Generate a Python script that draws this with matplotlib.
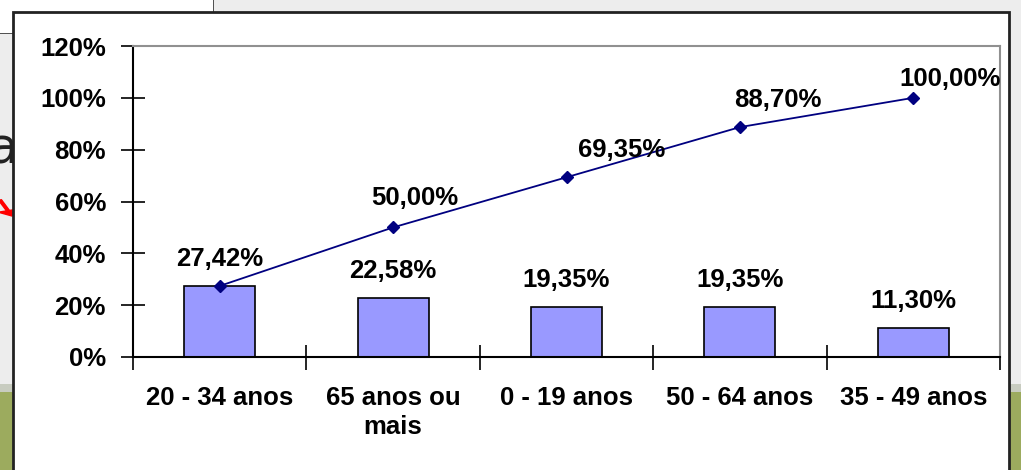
import matplotlib.pyplot as plt
import matplotlib.patches as patches
import matplotlib.lines as mlines
import numpy as np

# dados
categorias = ['20 - 34 anos', '65 anos ou\nmais', '0 - 19 anos', '50 - 64 anos', '35 - 49 anos']
percentual = [27.42, 22.58, 19.35, 19.35, 11.30]
acumulado = [27.42, 50.00, 69.35, 88.70, 100.00]
rot_barras = ['27,42%', '22,58%', '19,35%', '19,35%', '11,30%']
rot_linha = ['', '50,00%', '69,35%', '88,70%', '100,00%']

plt.rcParams['font.family'] = ['Liberation Sans', 'DejaVu Sans']
plt.rcParams['font.weight'] = 'bold'
fs = 18.5

W, H = 1021, 470
fig = plt.figure(figsize=(W / 100, H / 100), dpi=100, facecolor='#ededed')

# fundo do slide (recortado)
fig.patches.append(patches.Rectangle((0, 0), 1, 1 - 390 / H, transform=fig.transFigure,
                                     facecolor='#9cab5e', edgecolor='none', zorder=0))
fig.patches.append(patches.Rectangle((0, 1 - 392 / H), 1, 8 / H, transform=fig.transFigure,
                                     facecolor='#c8ccc0', edgecolor='none', zorder=0))
fig.patches.append(patches.Rectangle((0, 1 - 33 / H), 213 / W, 33 / H, transform=fig.transFigure,
                                     facecolor='white', edgecolor='none', zorder=0))
fig.lines.append(mlines.Line2D([213 / W, 213 / W], [1, 1 - 12 / H], transform=fig.transFigure,
                               color='#333333', linewidth=1.2, zorder=0))
fig.lines.append(mlines.Line2D([0, 13 / W], [1 - 33 / H, 1 - 33 / H], transform=fig.transFigure,
                               color='#333333', linewidth=1.2, zorder=0))
fig.text(-12 / W, 1 - 150 / H, 'a', fontsize=36, fontweight='normal', family='DejaVu Sans',
         color='#222222', ha='left', va='center', zorder=0)
fig.patches.append(patches.FancyArrow(0, 1 - 200 / H, 12 / W, -16 / H, transform=fig.transFigure,
                                      width=0.003, head_width=0.02, head_length=0.012,
                                      color='red', zorder=0, length_includes_head=True))

# caixa do gráfico
fig.patches.append(patches.Rectangle((13 / W, -0.05), (1009 - 13) / W, 1.05 - 12 / H,
                                     transform=fig.transFigure, facecolor='white',
                                     edgecolor='#222222', linewidth=2, zorder=1))

ax = fig.add_axes([133 / W, 1 - 357 / H, (1000 - 133) / W, (357 - 46) / H])
ax.set_zorder(2)
x = np.arange(len(categorias))

ax.bar(x, percentual, width=0.41, color='#9999ff', edgecolor='black', linewidth=1.2, zorder=2)
ax.plot(x, acumulado, color='#000080', linewidth=1.3, marker='D', markersize=6, zorder=3)

for xi, v, t in zip(x, percentual, rot_barras):
    ax.annotate(t, (xi, v), xytext=(0, 27), textcoords='offset pixels',
                ha='center', va='center', fontsize=fs, fontweight='bold')

dx = [0, 22, 55, 38, 37]
dy = [0, 29, 27, 27, 19]
for xi, v, t, ox, oy in zip(x, acumulado, rot_linha, dx, dy):
    if t:
        ax.annotate(t, (xi, v), xytext=(ox, oy), textcoords='offset pixels',
                    ha='center', va='center', fontsize=fs, fontweight='bold')

ax.set_xlim(-0.5, len(categorias) - 0.5)
ax.set_ylim(0, 120)
ax.set_yticks(np.arange(0, 121, 20))
ax.set_yticklabels([f'{v}%' for v in range(0, 121, 20)], fontsize=fs, fontweight='bold')
ax.set_xticks(x)
ax.set_xticklabels(categorias, fontsize=fs, fontweight='bold', linespacing=1.25)
ax.set_xticks(np.arange(-0.5, len(categorias), 1), minor=True)
ax.tick_params(axis='x', which='major', length=0, pad=21)
ax.tick_params(axis='x', which='minor', length=18, direction='inout', width=1.2)
ax.tick_params(axis='y', length=17, direction='inout', width=1.2, pad=11)

for s in ['left', 'bottom']:
    ax.spines[s].set_color('black')
    ax.spines[s].set_linewidth(1.5)
for s in ['top', 'right']:
    ax.spines[s].set_color('#909090')
    ax.spines[s].set_linewidth(1.5)

plt.savefig('out.png', dpi=100, facecolor=fig.get_facecolor())
